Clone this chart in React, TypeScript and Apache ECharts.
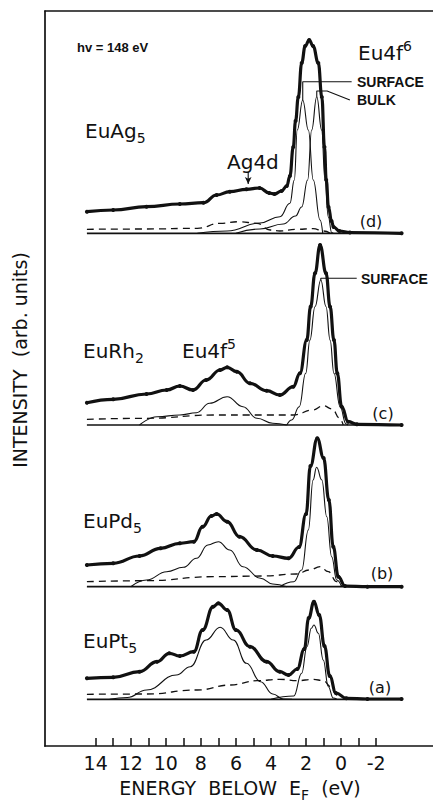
import React, { useEffect, useRef } from "react";
import * as echarts from "echarts";

// ---- axis ----
const X_MIN = -5.24; // energy at the right edge of the picture
const X_MAX = 16.89; // energy at the left frame line
const Y_MAX = 735;
const tickLabels = [14, 12, 10, 8, 6, 4, 2, 0, -2];
const tickMarks = [14, 13, 12, 11, 10, 9, 8, 7, 6, 5, 4, 3, 2, 1, 0, -1, -2];

// ---- baselines of the four spectra (arb. units) ----
const baselineSpan = [14.5, -3.45];
const baselines = [46.7, 159.3, 321, 512.7];

// ---- (a) EuPt5 ----
const dataA = [[14.5,67.7],[13.0,68.7],[11.5,74.3],[10.5,84.3],[9.8,92.7],[9.2,90],[8.4,94.3],[7.9,116],[7.3,139.3],[7.0,142.7],[6.5,136],[6.0,116],[5.2,99.3],[4.25,84.3],[3.5,74.3],[3.0,71],[2.5,77],[2.1,97],[1.85,128],[1.55,144.3],[1.25,131],[0.95,100],[0.65,70],[0.3,53],[-0.3,47.7],[-1.5,47],[-3.45,47]];
const f5A = [[13.2,46.7],[12.2,48.5],[11.1,56],[9.4,71],[8.6,79.3],[7.7,106],[6.9,118.7],[6.15,106],[5.4,82.7],[4.6,64.3],[3.9,52],[3.3,47],[2.8,46.7]];
const f6A = [[4.0,46.7],[2.7,50],[2.25,72.7],[1.95,99.3],[1.7,117.7],[1.55,121],[1.3,112.7],[1.02,86],[0.73,59.3],[0.45,48],[0.25,46.7]];
const bgA = [[14.5,51.7],[11.1,52],[8.2,56],[6.3,61],[4.8,65.3],[3.5,66.7],[2.5,65.3],[1.6,66.7],[1.0,65.3],[0.6,59.3],[0.25,51],[0.05,46.7]];

// ---- (b) EuPd5 ----
const dataB = [[14.5,181],[13.0,182.7],[11.5,190],[10.3,197.7],[9.2,202.7],[8.4,204.3],[7.9,219.3],[7.4,230],[7.1,232],[6.5,224.3],[5.8,209.3],[4.8,196],[3.9,190],[3.0,187.7],[2.4,199],[2.0,232],[1.75,280],[1.36,307.7],[1.0,288],[0.7,246],[0.45,199.3],[0.16,169.3],[-0.22,160],[-1.5,159.3],[-3.45,159.3]];
const f5B = [[12.0,159.3],[11.1,166],[9.95,174.3],[9.0,178.7],[8.25,187.7],[7.6,201],[7.0,204.3],[6.35,196],[5.6,179.3],[4.6,167.7],[3.9,162],[3.1,159.3]];
const f6B = [[3.5,159.3],[2.7,164.3],[2.25,176],[1.87,216],[1.6,266],[1.4,278.7],[1.1,266],[0.82,229.3],[0.54,189.3],[0.25,166],[-0.03,159.3]];
const bgB = [[14.5,164.3],[11.1,165.3],[7.3,169.3],[4.45,170],[2.55,172],[1.8,176],[1.2,179.3],[0.73,174.3],[0.25,164.3],[-0.05,159.3]];

// ---- (c) EuRh2 ----
const dataC = [[14.5,343.3],[13.0,346.7],[11.1,352],[9.95,356],[9.2,360],[8.45,356],[7.7,366],[6.9,376],[6.5,378.7],[5.95,374.3],[5.2,362.7],[4.25,355.3],[3.5,351],[2.73,359.3],[2.35,372.7],[1.96,406],[1.74,439.3],[1.49,472.7],[1.2,501],[0.86,472.7],[0.63,439.3],[0.41,406],[0.22,372.7],[-0.03,339.3],[-0.4,324.3],[-0.9,321.7],[-3.45,321]];
const f5C = [[11.5,321],[10.5,329.3],[9.2,331],[8.25,333.3],[7.5,342.7],[6.5,349.3],[5.6,339.3],[4.8,327.7],[3.9,322.7],[3.1,321]];
const f6C = [[3.1,321],[2.82,326],[2.39,339.3],[2.02,372.7],[1.78,406],[1.49,439.3],[1.16,466],[0.86,439.3],[0.63,406],[0.41,372.7],[0.06,339.3],[-0.28,322],[-0.4,321]];
const bgC = [[14.5,326.7],[11.1,327.7],[7.3,331],[4.45,331],[2.73,331],[1.6,336],[1.02,340.3],[0.5,337],[0.1,328],[-0.12,321]];

// ---- (d) EuAg5 ----
const dataD = [[14.5,534.3],[13.0,536],[11.1,539.3],[9.2,542],[7.85,543.3],[7.1,551],[6.35,554.3],[5.4,556.7],[4.65,558],[4.1,553],[3.8,552],[3.4,555],[3.1,560],[2.92,570],[2.73,599],[2.6,625],[2.44,649],[2.25,683],[2.05,700],[1.82,706],[1.6,700],[1.3,683],[1.1,649],[0.95,599],[0.85,566],[0.72,539],[0.55,525],[0.43,519],[0.1,515],[-0.5,513.5],[-3.45,512.7]];
const surfD = [[8.2,512.7],[6.5,515],[4.63,523],[3.49,529.3],[2.92,542.7],[2.67,566],[2.5,616],[2.19,646],[1.87,616],[1.59,566],[1.2,526],[1.05,512.7]];
const bulkD = [[6.0,512.7],[4.63,517],[3.3,522],[2.6,530],[2.25,539],[1.91,566],[1.68,616],[1.39,649.3],[1.11,616],[0.92,566],[0.73,529],[0.54,513.5],[0.45,512.7]];
const bgD = [[14.5,516.7],[11.1,517],[8.2,517.7],[6.9,522.7],[5.8,524.3],[4.8,522.7],[4.05,516],[3.5,515],[2.55,516.7],[1.6,517.3],[1.0,515],[0.6,512.7]];

// ---- leader lines / arrow ----
const leaderSurfD = [[2.19,646],[2.19,664.3],[-0.6,664.3]];
const leaderBulkD = [[1.39,649.3],[1.39,655],[0.8,655],[-0.5,646]];
const leaderSurfC = [[1.16,466],[1.16,467.7],[-0.89,467.7]];
const arrowAg = [[5.3,574.3],[5.3,562]];

const FONT = "DejaVu Sans";
const SMALL = "Liberation Sans";

function line(data: number[][], w: number, opts: any = {}) {
  return {
    type: "line",
    data,
    smooth: opts.smooth ?? 0.45,
    smoothMonotone: "x",
    showSymbol: false,
    symbol: "none",
    silent: true,
    z: opts.z ?? 2,
    lineStyle: { color: "#111", width: w, type: opts.dash ?? "solid" },
  };
}
function dataLine(data: number[][]) {
  return {
    type: "line",
    data,
    smooth: 0.45,
    smoothMonotone: "x",
    showSymbol: true,
    symbol: "circle",
    symbolSize: 4,
    itemStyle: { color: "#111" },
    silent: true,
    z: 5,
    lineStyle: { color: "#111", width: 3.2 },
  };
}

function txt(text: string, x: number, y: number, size: number, extra: any = {}) {
  return {
    type: "text",
    x,
    y,
    silent: true,
    style: {
      text,
      fontSize: size,
      fontFamily: extra.family ?? FONT,
      fontWeight: extra.weight ?? "normal",
      fill: "#111",
      textAlign: extra.align ?? "left",
      textVerticalAlign: "middle",
      rich: {
        m: { fontSize: size, fontFamily: extra.family ?? FONT, lineHeight: 28, fill: "#111" },
        sub: { fontSize: 14, fontFamily: FONT, lineHeight: 18, verticalAlign: "bottom", fill: "#111" },
        sup: { fontSize: 14, fontFamily: FONT, lineHeight: 14, verticalAlign: "top", fill: "#111" },
      },
    },
    rotation: extra.rotation ?? 0,
  };
}

export default function App() {
  const ref = useRef<HTMLDivElement>(null);
  useEffect(() => {
    if (!ref.current) return;
    const chart = echarts.init(ref.current, null, { renderer: "svg" });
    const series: any[] = [];
    baselines.forEach((b) =>
      series.push(line([[baselineSpan[0], b], [baselineSpan[1], b]], 1.7, { smooth: false, z: 1 }))
    );
    [bgA, bgB, bgC, bgD].forEach((d) => series.push(line(d, 1.3, { dash: [7, 5] })));
    [f5A, f6A, f5B, f6B, f5C, f6C, surfD, bulkD].forEach((d) => series.push(line(d, 1.1)));
    [dataA, dataB, dataC, dataD].forEach((d) => series.push(dataLine(d)));
    [leaderSurfD, leaderBulkD, leaderSurfC].forEach((d) => series.push(line(d, 1.1, { smooth: false })));
    series.push({
      type: "line",
      data: [
        { value: arrowAg[0], symbol: "none" },
        { value: arrowAg[1], symbol: "arrow", symbolSize: [5, 7], symbolRotate: 180 },
      ],
      showSymbol: true,
      itemStyle: { color: "#111" },
      lineStyle: { color: "#111", width: 1.1 },
      silent: true,
    });

    chart.setOption({
      animation: false,
      backgroundColor: "#fff",
      textStyle: { fontFamily: FONT },
      grid: { left: 45, top: 11, right: 0, bottom: 57, containLabel: false },
      xAxis: [
        {
          type: "value",
          min: X_MIN,
          max: X_MAX,
          inverse: true,
          position: "bottom",
          axisLine: { show: true, onZero: false, lineStyle: { color: "#111", width: 1.7 } },
          axisTick: { show: true, inside: true, length: 8, customValues: tickMarks, lineStyle: { color: "#111", width: 1.5 } },
          axisLabel: { show: true, customValues: tickLabels, color: "#111", fontSize: 19, fontFamily: FONT, margin: 7, formatter: (v: number) => String(v) },
          splitLine: { show: false },
        },
        {
          type: "value",
          min: X_MIN,
          max: X_MAX,
          inverse: true,
          position: "top",
          axisLine: { show: true, onZero: false, lineStyle: { color: "#111", width: 1.7 } },
          axisTick: { show: false },
          axisLabel: { show: false },
          splitLine: { show: false },
        },
      ],
      yAxis: {
        type: "value",
        min: 0,
        max: Y_MAX,
        position: "left",
        axisLine: { show: true, onZero: false, lineStyle: { color: "#111", width: 1.7 } },
        axisTick: { show: false },
        axisLabel: { show: false },
        splitLine: { show: false },
      },
      series,
      graphic: [
        txt("hv = 148 eV", 77, 47, 13, { family: SMALL, weight: "bold" }),
        txt("{m|Eu4f}{sup|6}", 358, 53, 20),
        txt("SURFACE", 357, 81.5, 14, { family: SMALL, weight: "bold" }),
        txt("BULK", 357, 100, 14, { family: SMALL, weight: "bold" }),
        txt("{m|EuAg}{sub|5}", 85, 131, 20),
        txt("Ag4d", 227, 162, 20),
        txt("(d)", 371, 221, 16, { align: "center" }),
        txt("SURFACE", 361, 278.5, 14, { family: SMALL, weight: "bold" }),
        txt("{m|EuRh}{sub|2}", 83, 351, 20),
        txt("{m|Eu4f}{sup|5}", 182, 351, 20),
        txt("(c)", 383, 413, 16, { align: "center" }),
        txt("{m|EuPd}{sub|5}", 83, 521, 20),
        txt("(b)", 382, 573, 16, { align: "center" }),
        txt("{m|EuPt}{sub|5}", 83, 641, 20),
        txt("(a)", 380, 687, 16, { align: "center" }),
        txt("{m|ENERGY  BELOW  E}{sub|F}{m|  (eV)}", 240, 788, 19, { align: "center" }),
        txt("INTENSITY  (arb. units)", 20, 360, 19, { align: "center", rotation: Math.PI / 2 }),
      ],
    });
    return () => chart.dispose();
  }, []);
  return (
    <div
      ref={ref}
      style={{ position: "fixed", left: 0, top: 0, width: 433, height: 803, background: "#fff" }}
    />
  );
}
